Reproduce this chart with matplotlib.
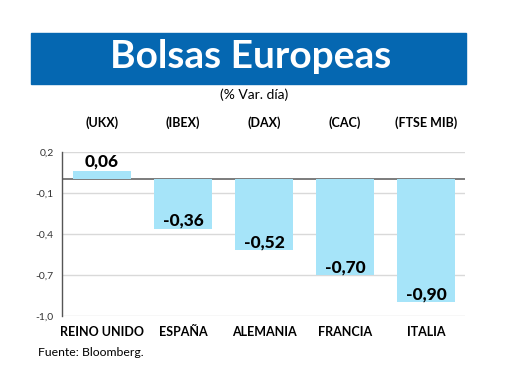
import matplotlib.pyplot as plt
from matplotlib.patches import Rectangle
import matplotlib.transforms as mtransforms

paises = ["REINO UNIDO", "ESPAÑA", "ALEMANIA", "FRANCIA", "ITALIA"]
indices = ["(UKX)", "(IBEX)", "(DAX)", "(CAC)", "(FTSE MIB)"]
variacion = [0.06, -0.36, -0.52, -0.70, -0.90]
yticks = [0.2, -0.1, -0.4, -0.7, -1.0]

plt.rcParams["font.family"] = ["Lato", "DejaVu Sans"]

fig = plt.figure(figsize=(5.2, 3.9), dpi=100)

# Banner
fig.patches.append(Rectangle((31 / 520, 1 - 84 / 390), 435 / 520, 51 / 390,
                             transform=fig.transFigure, color="#0567B1", zorder=0))
fig.text(251 / 520, 1 - 68 / 390, "Bolsas Europeas", color="white", fontsize=28,
         fontweight="bold", ha="center", va="baseline")
fig.text(254 / 520, 1 - 95 / 390, "(% Var. día)", fontsize=10, ha="center", va="center")
fig.text(38 / 520, 1 - 353 / 390, "Fuente: Bloomberg.", fontsize=8.8, ha="left", va="center")

ax = fig.add_axes([62 / 520, 1 - 316 / 390, 403 / 520, 164 / 390])
x = list(range(len(paises)))
ax.bar(x, variacion, width=0.72, color="#A6E4F9", zorder=3)

ax.set_xlim(-0.494, 4.48)
ax.set_ylim(-1.0, 0.2)
ax.set_yticks(yticks)
ax.set_yticklabels([f"{v:.1f}".replace(".", ",") for v in yticks], fontsize=7.5, color="#333333")
ax.grid(axis="y", color="#d9d9d9", linewidth=1, zorder=0)
ax.axhline(0, color="#666666", linewidth=1.2, zorder=2)
ax.tick_params(axis="both", length=0, pad=6)
ax.set_xticks(x)
ax.set_xticklabels(paises, fontsize=9, fontweight="bold")
ax.tick_params(axis="x", pad=7)
for side in ["top", "right", "bottom"]:
    ax.spines[side].set_visible(False)
ax.spines["left"].set_color("#555555")
ax.spines["left"].set_linewidth(1)

# value labels: above the positive bar, inside the bottom of negative bars
for xi, v in zip(x, variacion):
    txt = f"{v:.2f}".replace(".", ",")
    ax.annotate(txt, (xi, v), xytext=(0, 3 if v >= 0 else 2),
                textcoords="offset points", ha="center", va="baseline",
                fontsize=12.5, fontweight="black", zorder=4)

trans = mtransforms.blended_transform_factory(ax.transData, fig.transFigure)
for xi, code in zip(x, indices):
    ax.text(xi, 1 - 123 / 390, code, transform=trans, ha="center", va="center",
            fontsize=9, fontweight="bold")

fig.savefig("out.png", dpi=100)
